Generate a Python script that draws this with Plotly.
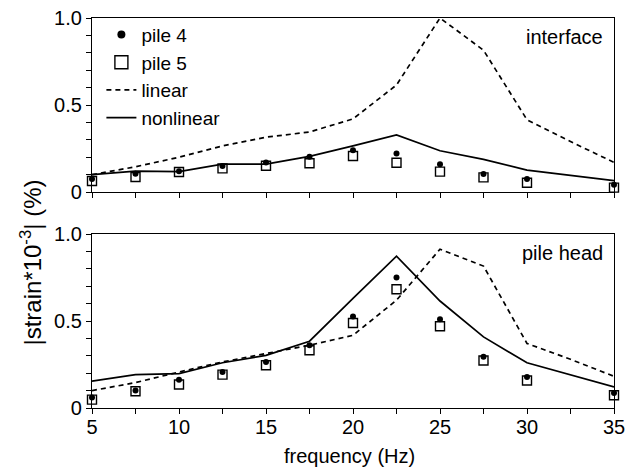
import plotly.graph_objects as go

freq = [5, 7.5, 10, 12.5, 15, 17.5, 20, 22.5, 25, 27.5, 30, 32.5, 35]
freq_pile = [5, 7.5, 10, 12.5, 15, 17.5, 20, 22.5, 25, 27.5, 30, 35]

# interface (top panel)
if_linear = [0.10, 0.145, 0.20, 0.265, 0.315, 0.345, 0.42, 0.615, 1.0, 0.815, 0.415, 0.29, 0.17]
if_nonlinear = [0.10, 0.12, 0.117, 0.16, 0.16, 0.205, 0.265, 0.328, 0.237, 0.188, 0.126, 0.097, 0.065]
if_pile4 = [0.075, 0.105, 0.12, 0.15, 0.17, 0.203, 0.24, 0.222, 0.159, 0.103, 0.075, 0.042]
if_pile5 = [0.063, 0.086, 0.115, 0.136, 0.151, 0.165, 0.207, 0.168, 0.117, 0.084, 0.053, 0.025]

# pile head (bottom panel)
ph_linear = [0.10, 0.146, 0.207, 0.265, 0.313, 0.361, 0.418, 0.62, 0.913, 0.816, 0.371, 0.28, 0.182]
ph_nonlinear = [0.155, 0.192, 0.198, 0.26, 0.303, 0.384, 0.63, 0.873, 0.615, 0.409, 0.26, 0.19, 0.121]
ph_pile4 = [0.06, 0.10, 0.163, 0.207, 0.265, 0.361, 0.526, 0.75, 0.51, 0.294, 0.178, 0.086]
ph_pile5 = [0.048, 0.096, 0.135, 0.192, 0.246, 0.332, 0.489, 0.683, 0.47, 0.273, 0.158, 0.073]

x_tickvals = [5, 7.5, 10, 12.5, 15, 17.5, 20, 22.5, 25, 27.5, 30, 32.5, 35]
x_ticktext = ["5", "", "10", "", "15", "", "20", "", "25", "", "30", "", "35"]
y_tickvals = [0, 0.1, 0.2, 0.3, 0.4, 0.5, 0.6, 0.7, 0.8, 0.9, 1.0]
y_ticktext = ["0", "", "", "", "", "0.5", "", "", "", "", "1.0"]

FONT = "Liberation Sans, Arial, sans-serif"
FS = 20
fig = go.Figure()

def add_panel(xa, ya, p4, p5, lin, nonlin):
    fig.add_trace(go.Scatter(x=freq, y=lin, mode="lines", name="linear",
                             line=dict(color="black", width=1.7, dash="5px,4px"),
                             xaxis=xa, yaxis=ya, showlegend=False))
    fig.add_trace(go.Scatter(x=freq, y=nonlin, mode="lines", name="nonlinear",
                             line=dict(color="black", width=1.7),
                             xaxis=xa, yaxis=ya, showlegend=False))
    fig.add_trace(go.Scatter(x=freq_pile, y=p4, mode="markers", name="pile 4",
                             marker=dict(symbol="circle", size=6, color="black"),
                             xaxis=xa, yaxis=ya, showlegend=False, cliponaxis=False))
    fig.add_trace(go.Scatter(x=freq_pile, y=p5, mode="markers", name="pile 5",
                             marker=dict(symbol="square-open", size=9, color="black",
                                         line=dict(width=1.4, color="black")),
                             xaxis=xa, yaxis=ya, showlegend=False, cliponaxis=False))

add_panel("x", "y", if_pile4, if_pile5, if_linear, if_nonlinear)
add_panel("x2", "y2", ph_pile4, ph_pile5, ph_linear, ph_nonlinear)

# legend entries (larger symbols, like the reference legend)
fig.add_trace(go.Scatter(x=[None], y=[None], mode="markers", name="pile 4",
                         marker=dict(symbol="circle", size=8, color="black")))
fig.add_trace(go.Scatter(x=[None], y=[None], mode="markers", name="pile 5",
                         marker=dict(symbol="square-open", size=13, color="black",
                                     line=dict(width=1.4, color="black"))))
fig.add_trace(go.Scatter(x=[None], y=[None], mode="lines", name="linear",
                         line=dict(color="black", width=1.7, dash="5px,4px")))
fig.add_trace(go.Scatter(x=[None], y=[None], mode="lines", name="nonlinear",
                         line=dict(color="black", width=1.7)))

axis_common = dict(showline=True, linecolor="black", linewidth=1.3, mirror=True,
                   ticks="outside", ticklen=5, tickwidth=1.2, tickcolor="black",
                   showgrid=False, zeroline=False, automargin=False,
                   ticklabeloverflow="allow",
                   tickfont=dict(family=FONT, size=FS, color="black"))

fig.update_layout(
    width=625, height=475,
    margin=dict(l=92, r=11, t=18, b=67, autoexpand=False),
    plot_bgcolor="white", paper_bgcolor="white",
    font=dict(family=FONT, size=FS, color="black"),
    xaxis=dict(domain=[0, 1], range=[5, 35], anchor="y", tickvals=x_tickvals,
               ticktext=[""] * len(x_tickvals), **axis_common),
    yaxis=dict(domain=[0.5538, 1], range=[0, 1.0], anchor="x", tickvals=y_tickvals,
               ticktext=y_ticktext, **axis_common),
    xaxis2=dict(domain=[0, 1], range=[5, 35], anchor="y2", tickvals=x_tickvals,
                ticktext=x_ticktext, ticklabelstandoff=-4, **axis_common),
    yaxis2=dict(domain=[0, 0.446], range=[0, 1.0], anchor="x2", tickvals=y_tickvals,
                ticktext=y_ticktext, **axis_common),
    legend=dict(x=0.018, y=1.006, xanchor="left", yanchor="top", bgcolor="rgba(0,0,0,0)",
                font=dict(family=FONT, size=19, color="black"), tracegroupgap=0),
    showlegend=True,
)

fig.add_annotation(text="interface", xref="x domain", yref="y domain", x=0.983, y=0.89,
                   xanchor="right", yanchor="middle", showarrow=False,
                   font=dict(family=FONT, size=FS, color="black"))
fig.add_annotation(text="pile head", xref="x2 domain", yref="y2 domain", x=0.983, y=0.89,
                   xanchor="right", yanchor="middle", showarrow=False,
                   font=dict(family=FONT, size=FS, color="black"))
fig.add_annotation(text="frequency (Hz)", xref="paper", yref="paper", x=0.494, y=-0.123,
                   xanchor="center", yanchor="middle", showarrow=False,
                   font=dict(family=FONT, size=FS, color="black"))
fig.add_annotation(text="|strain*10<sup>-3</sup>| (%)", xref="paper", yref="paper",
                   x=-0.116, y=0.156, xanchor="center", yanchor="bottom", textangle=-90,
                   showarrow=False, font=dict(family=FONT, size=24, color="black"))

fig.write_html("out.html", config={"displayModeBar": False},
               post_script="document.body.style.margin='0px';")
